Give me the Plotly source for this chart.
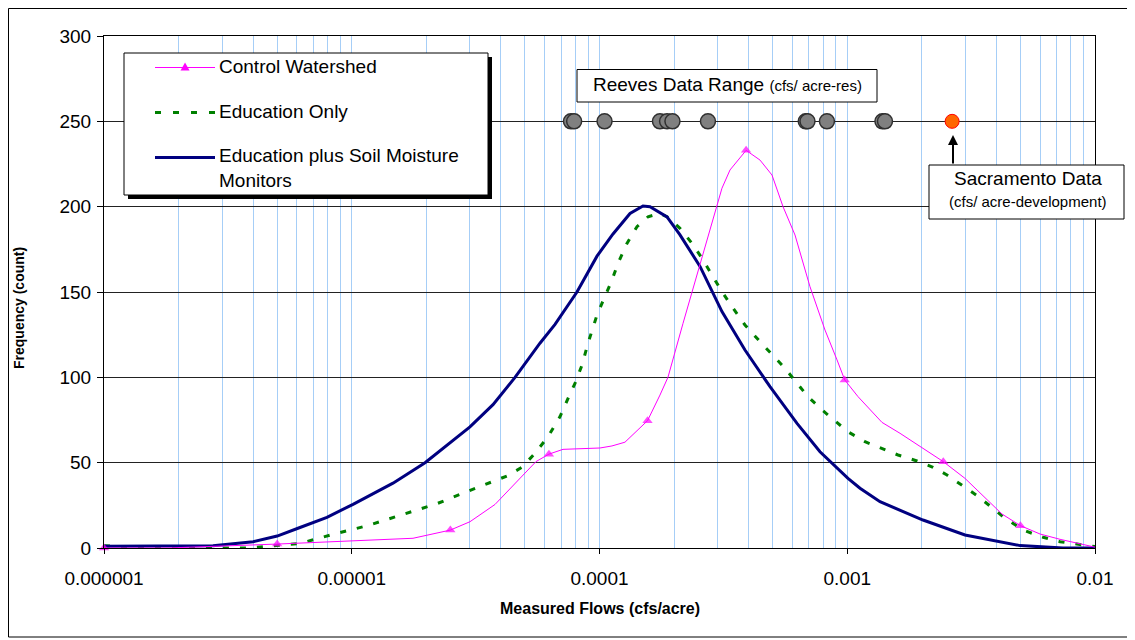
import plotly.graph_objects as go

# ---------------- data ----------------
# Control Watershed (cfs/acre, count)
cw_x = [1e-6, 1.796e-6, 5e-6, 1.767e-5, 2.5e-5, 3.0e-5, 3.786e-5, 5.54e-5, 6.25e-5, 7.124e-5,
        1.005e-4, 1.123e-4, 1.267e-4, 1.5625e-4, 1.754e-4, 1.889e-4, 2.173e-4, 2.666e-4, 3.121e-4, 3.363e-4,
        3.906e-4, 4.445e-4, 4.97e-4, 5.505e-4, 6.153e-4, 7.073e-4, 8.132e-4, 9.093e-4, 9.766e-4, 1.105e-3,
        1.381e-3, 1.633e-3, 2.022e-3, 2.441e-3, 2.987e-3, 4.213e-3, 5.0e-3, 5.998e-3, 7.224e-3, 1e-2]
cw_y = [0, 0, 2.3, 5.7, 10.5, 15.4, 25.5, 50.6, 55, 57.8,
        58.6, 59.8, 62, 74.6, 89.6, 100, 131.6, 175.6, 210.8, 221.5,
        233, 227.3, 218.5, 200, 183.4, 153.1, 127.7, 110.2, 98.5, 88.7,
        73.6, 67.2, 58.4, 50.6, 40.8, 19.9, 13.1, 8.2, 5.1, 0.5]
cw_marker_x = [1e-6, 5e-6, 2.5e-5, 6.25e-5, 1.5625e-4, 3.906e-4, 9.766e-4, 2.441e-3, 5.0e-3, 1e-2]

# Education Only
eo_x = [1e-6, 1.437e-6, 3.884e-6, 5e-6, 6.18e-6, 8.4e-6, 1.152e-5, 1.61e-5, 2.209e-5, 3.058e-5,
        3.614e-5, 4.233e-5, 4.867e-5, 5.49e-5, 6.196e-5, 6.929e-5, 7.465e-5, 7.963e-5, 8.501e-5, 8.988e-5,
        9.77e-5, 1.052e-4, 1.123e-4, 1.188e-4, 1.291e-4, 1.417e-4, 1.57e-4, 1.754e-4, 1.873e-4, 2.113e-4,
        2.362e-4, 2.593e-4, 2.872e-4, 3.121e-4, 3.425e-4, 3.866e-4, 4.445e-4, 5.016e-4, 5.608e-4, 6.27e-4,
        6.943e-4, 7.91e-4, 8.926e-4, 1.007e-3, 1.179e-3, 1.381e-3, 1.603e-3, 1.912e-3, 2.219e-3, 2.527e-3,
        2.906e-3, 3.34e-3, 3.77e-3, 4.254e-3, 5.122e-3, 6.169e-3, 7.224e-3, 8.46e-3, 1e-2]
eo_y = [1.3, 0, 0, 1.3, 2.7, 8, 13, 19.7, 26, 34.2,
        38.3, 42.2, 47.3, 55.5, 65.2, 77, 87.7, 96.5, 107.2, 120,
        136.5, 147.2, 157, 166.8, 178.5, 188.3, 194.1, 196, 194.1, 187.3,
        178.5, 169.7, 159, 150.2, 141.4, 130.7, 120.9, 113, 105.3, 96.5,
        88.7, 80.9, 74.6, 68.1, 62.3, 58.4, 54.5, 51, 47.3, 42.8,
        36.5, 30.7, 24.6, 18.4, 10.5, 6.3, 3.7, 2.3, 0.8]

# Education plus Soil Moisture Monitors
ep_x = [1e-6, 2.754e-6, 4e-6, 5e-6, 6.18e-6, 7.94e-6, 1.012e-5, 1.467e-5, 1.976e-5, 2.27e-5,
        3.0e-5, 3.716e-5, 4.56e-5, 5.75e-5, 6.614e-5, 8.11e-5, 9.77e-5, 1.134e-4, 1.328e-4, 1.498e-4,
        1.599e-4, 1.873e-4, 2.113e-4, 2.545e-4, 3.121e-4, 3.866e-4, 4.878e-4, 6.27e-4, 7.762e-4, 1.007e-3,
        1.126e-3, 1.356e-3, 1.633e-3, 2.022e-3, 2.987e-3, 4.982e-3, 7.43e-3, 1e-2]
ep_y = [1, 1.3, 3.7, 7, 12, 18, 25.6, 38, 50, 57,
        71, 84, 100, 120, 131, 150, 171, 184, 196, 200.4,
        200, 194, 183.5, 165, 138.5, 116, 94.5, 73, 56.4, 40.8,
        35, 27.1, 22.3, 16.4, 7.6, 1.4, 0, 0]

# Reeves data range (cfs/acre-res) and Sacramento (cfs/acre-development)
reeves_x = [7.67e-5, 7.9e-5, 1.048e-4, 1.754e-4, 1.874e-4, 1.97e-4, 2.74e-4,
            6.8e-4, 6.91e-4, 8.28e-4, 1.387e-3, 1.42e-3]
reeves_level = 250
sacramento_x = [2.65e-3]
sacramento_level = 250

x_tick_vals = [1e-6, 1e-5, 1e-4, 1e-3, 1e-2]
x_tick_text = ["0.000001", "0.00001", "0.0001", "0.001", "0.01"]
y_tick_vals = [0, 50, 100, 150, 200, 250, 300]

# ---------------- layout geometry ----------------
PAGE_OFF = 8                 # default body margin of the html page
W, H = 1135 - PAGE_OFF, 640 - PAGE_OFF
L, R, T, B = 104, 1095, 36, 548   # plot area in page pixels
FONT = "Liberation Sans, Arial, sans-serif"


def px(x):
    return (x - L) / (R - L)


def py(y):
    return (B - y) / (B - T)


fig = go.Figure()

fig.add_trace(go.Scatter(
    x=eo_x, y=eo_y, mode="lines", name="Education Only",
    line=dict(color="#008000", width=3, dash="6px,11px"), showlegend=False, cliponaxis=False))
fig.add_trace(go.Scatter(
    x=ep_x, y=ep_y, mode="lines", name="Education plus Soil Moisture Monitors",
    line=dict(color="#000080", width=3), showlegend=False, cliponaxis=False))
cw_sizes = [9 if v in cw_marker_x else 0 for v in cw_x]
fig.add_trace(go.Scatter(
    x=cw_x, y=cw_y, mode="lines+markers", name="Control Watershed",
    line=dict(color="#FF00FF", width=1),
    marker=dict(symbol="triangle-up", size=cw_sizes, color="#FF00FF", line=dict(width=0)),
    showlegend=False, cliponaxis=False))
fig.add_trace(go.Scatter(
    x=reeves_x, y=[reeves_level] * len(reeves_x), mode="markers",
    marker=dict(size=15, color="#808080", line=dict(color="#303030", width=1.5)),
    showlegend=False))
fig.add_trace(go.Scatter(
    x=sacramento_x, y=[sacramento_level] * len(sacramento_x), mode="markers",
    marker=dict(size=14, color="#FF6600", line=dict(color="#FF0000", width=1)),
    showlegend=False))

minor_vals = [m * 10 ** e for e in range(-6, -2) for m in range(2, 10)]

fig.update_xaxes(
    type="log", range=[-6, -2],
    tickvals=x_tick_vals, ticktext=x_tick_text,
    showgrid=True, gridcolor="#A6CEF7", gridwidth=1,
    minor=dict(tickmode="array", tickvals=minor_vals, showgrid=True,
               gridcolor="#A6CEF7", gridwidth=1, ticks=""),
    ticks="outside", ticklen=5, tickcolor="black",
    showline=True, linecolor="black", linewidth=1, mirror=True,
    zeroline=False, ticklabelstandoff=8,
    tickfont=dict(family=FONT, size=19, color="black"))
fig.update_yaxes(
    range=[0, 300], tickvals=y_tick_vals,
    showgrid=True, gridcolor="#222222", gridwidth=1,
    ticks="outside", ticklen=6, tickcolor="black",
    showline=True, linecolor="black", linewidth=1, mirror=True,
    zeroline=False, ticklabelstandoff=2,
    tickfont=dict(family=FONT, size=19, color="black"))

shapes = []
annots = []

# outer frame
shapes.append(dict(type="rect", xref="paper", yref="paper", x0=px(PAGE_OFF + 0.5), x1=px(1132),
                   y0=py(637), y1=py(PAGE_OFF + 0.5),
                   line=dict(color="black", width=1), layer="below"))

# legend box with shadow
shapes.append(dict(type="rect", xref="paper", yref="paper", x0=px(128), x1=px(492), y0=py(199), y1=py(57),
                   fillcolor="black", line=dict(width=0), layer="above"))
shapes.append(dict(type="rect", xref="paper", yref="paper", x0=px(124), x1=px(488), y0=py(195), y1=py(53),
                   fillcolor="white", line=dict(color="black", width=1), layer="above"))
shapes.append(dict(type="line", xref="paper", yref="paper", x0=px(155), x1=px(215), y0=py(67.5), y1=py(67.5),
                   line=dict(color="#FF00FF", width=1), layer="above"))
shapes.append(dict(type="path", xref="paper", yref="paper", xsizemode="pixel", ysizemode="pixel",
                   xanchor=px(185), yanchor=py(67.5), path="M -4.5,-3 L 4.5,-3 L 0,5 Z",
                   fillcolor="#FF00FF", line=dict(width=0), layer="above"))
shapes.append(dict(type="line", xref="paper", yref="paper", x0=px(155), x1=px(215), y0=py(112.5), y1=py(112.5),
                   line=dict(color="#008000", width=3, dash="6px,12px"), layer="above"))
shapes.append(dict(type="line", xref="paper", yref="paper", x0=px(155), x1=px(215), y0=py(157.5), y1=py(157.5),
                   line=dict(color="#000080", width=3), layer="above"))
annots.append(dict(xref="paper", yref="paper", x=px(217), y=py(66), xanchor="left", yanchor="middle",
                   text="Control Watershed", showarrow=False, font=dict(family=FONT, size=19, color="black")))
annots.append(dict(xref="paper", yref="paper", x=px(217), y=py(111), xanchor="left", yanchor="middle",
                   text="Education Only", showarrow=False, font=dict(family=FONT, size=19, color="black")))
annots.append(dict(xref="paper", yref="paper", x=px(217), y=py(168), xanchor="left", yanchor="middle",
                   align="left", text="Education plus Soil Moisture<br>Monitors", showarrow=False,
                   font=dict(family=FONT, size=19, color="black")))

# Reeves label box
shapes.append(dict(type="rect", xref="paper", yref="paper", x0=px(577), x1=px(877), y0=py(102), y1=py(69.5),
                   fillcolor="white", line=dict(color="black", width=1), layer="above"))
annots.append(dict(xref="paper", yref="paper", x=px(727.5), y=py(84), xanchor="center", yanchor="middle",
                   text="Reeves Data Range <span style='font-size:15px'>(cfs/ acre-res)</span>",
                   showarrow=False, font=dict(family=FONT, size=19, color="black")))

# Sacramento label box and arrow
shapes.append(dict(type="rect", xref="paper", yref="paper", x0=px(929), x1=px(1124), y0=py(219), y1=py(165),
                   fillcolor="white", line=dict(color="black", width=1), layer="above"))
annots.append(dict(xref="paper", yref="paper", x=px(1028), y=py(178), xanchor="center", yanchor="middle",
                   text="Sacramento Data", showarrow=False, font=dict(family=FONT, size=19, color="black")))
annots.append(dict(xref="paper", yref="paper", x=px(1028), y=py(201), xanchor="center", yanchor="middle",
                   text="(cfs/ acre-development)", showarrow=False, font=dict(family=FONT, size=15, color="black")))
annots.append(dict(xref="paper", yref="paper", x=px(953), y=py(135), axref="pixel", ayref="pixel",
                   ax=0, ay=30, text="", showarrow=True, arrowhead=2, arrowsize=1,
                   arrowwidth=2, arrowcolor="black"))

# axis titles
annots.append(dict(xref="paper", yref="paper", x=px(600), y=py(608), xanchor="center", yanchor="middle",
                   text="<b>Measured Flows (cfs/acre)</b>", showarrow=False,
                   font=dict(family=FONT, size=16, color="black")))
annots.append(dict(xref="paper", yref="paper", x=px(19), y=py(308), xanchor="center", yanchor="middle",
                   text="<b>Frequency (count)</b>", textangle=-90, showarrow=False,
                   font=dict(family=FONT, size=14, color="black")))

fig.update_layout(
    width=W, height=H, autosize=False,
    margin=dict(l=L - PAGE_OFF, r=W - (R - PAGE_OFF), t=T - PAGE_OFF, b=H - (B - PAGE_OFF), pad=0),
    paper_bgcolor="white", plot_bgcolor="white",
    font=dict(family=FONT, color="black"),
    shapes=shapes, annotations=annots, showlegend=False)

fig.write_html("out.html")
